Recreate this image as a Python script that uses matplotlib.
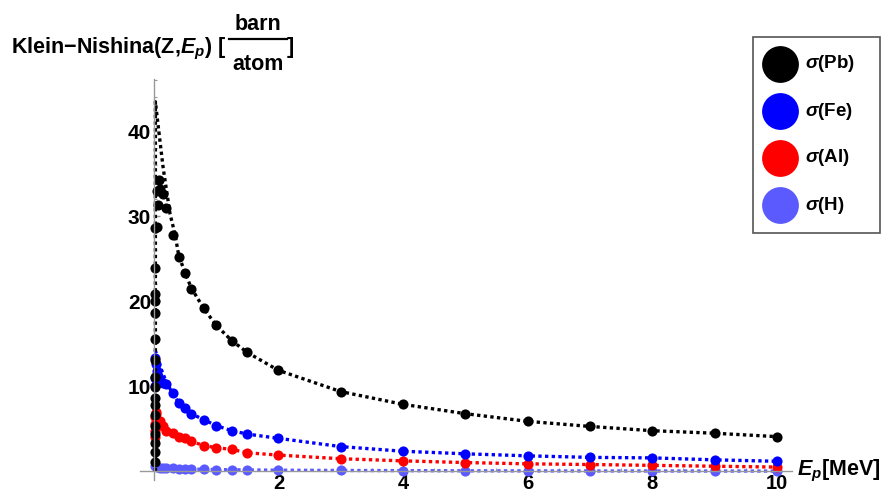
import matplotlib
matplotlib.use('Agg')
import matplotlib.pyplot as plt
from matplotlib.patches import Rectangle
from matplotlib.ticker import MultipleLocator

plt.rcParams['font.family'] = ['Liberation Sans', 'DejaVu Sans']
plt.rcParams['font.weight'] = 'bold'
plt.rcParams['mathtext.fontset'] = 'custom'
plt.rcParams['mathtext.it'] = 'Liberation Sans:italic:bold'
plt.rcParams['mathtext.rm'] = 'Liberation Sans:bold'
plt.rcParams['mathtext.bf'] = 'Liberation Sans:bold'

# photon energy E_p [MeV] and cross sections [barn/atom]
# sampled points (markers)
pb_e = [0.02, 0.02, 0.02, 0.02, 0.02, 0.02, 0.02, 0.02, 0.02, 0.02, 0.02, 0.02,
        0.02, 0.02, 0.025, 0.02, 0.02, 0.05, 0.06, 0.05, 0.08, 0.1, 0.15, 0.2,
        0.3, 0.4, 0.5, 0.6, 0.8, 1.0, 1.25, 1.5, 2.0, 3, 4, 5, 6, 7, 8, 9, 10]
pb_s = [1.1, 2.3, 3.4, 4.4, 5.4, 6.6, 7.8, 8.7, 9.9, 11.1, 13.1, 15.6,
        18.7, 20.1, 20.9, 23.9, 28.6, 28.8, 31.3, 33.0, 34.3, 33.2, 32.6, 31.0,
        27.8, 25.2, 23.3, 21.5, 19.2, 17.2, 15.4, 14.0, 11.9, 9.4, 7.9, 6.8, 5.9, 5.3, 4.8, 4.5, 4.1]

fe_e = [0.02, 0.02, 0.02, 0.03, 0.05, 0.07, 0.1, 0.15, 0.2, 0.3, 0.4, 0.5, 0.6,
        0.8, 1.0, 1.25, 1.5, 2.0, 3, 4, 5, 6, 7, 8, 9, 10]
fe_s = [10.0, 11.0, 13.3, 12.6, 11.8, 11.2, 10.8, 10.4, 10.3, 9.2, 8.1, 7.5, 6.8,
        6.1, 5.4, 4.8, 4.4, 3.9, 2.93, 2.38, 2.08, 1.84, 1.66, 1.6, 1.37, 1.2]

al_e = [0.02, 0.02, 0.02, 0.02, 0.03, 0.04, 0.1, 0.15, 0.2, 0.3, 0.4, 0.5, 0.6,
        0.8, 1.0, 1.25, 1.5, 2.0, 3, 4, 5, 6, 7, 8, 9, 10]
al_s = [4.0, 4.8, 5.6, 6.4, 7.0, 6.8, 5.9, 5.4, 4.8, 4.5, 4.1, 3.9, 3.55,
        3.05, 2.8, 2.7, 2.2, 1.93, 1.5, 1.25, 1.05, 0.9, 0.82, 0.72, 0.62, 0.52]

h_e = [0.02, 0.05, 0.1, 0.15, 0.2, 0.3, 0.4, 0.5, 0.6,
       0.8, 1.0, 1.25, 1.5, 2.0, 3, 4, 5, 6, 7, 8, 9, 10]
h_s = [0.6, 0.5, 0.45, 0.42, 0.4, 0.36, 0.33, 0.3, 0.28,
       0.25, 0.22, 0.2, 0.18, 0.15, 0.12, 0.1, 0.08, 0.07, 0.06, 0.06, 0.05, 0.05]

# joined curves (dotted)
pb_line_e = [0.025, 0.025, 0.08, 0.15, 0.26, 0.34, 0.4, 0.5, 0.6, 0.8, 1.0, 1.25, 1.5, 2.0,
             3, 4, 5, 6, 7, 8, 9, 10]
pb_line_s = [0.0, 43.5, 40.0, 35.7, 30.3, 27.9, 25.4, 23.4, 21.6, 19.2, 17.2, 15.4, 14.0, 11.9,
             9.4, 7.9, 6.8, 5.9, 5.3, 4.8, 4.5, 4.1]
fe_line_e = [0.025, 0.025, 0.1, 0.2, 0.3, 0.4, 0.5, 0.6, 0.8, 1.0, 1.25, 1.5, 2.0,
             3, 4, 5, 6, 7, 8, 9, 10]
fe_line_s = [0.0, 14.2, 12.4, 10.5, 9.2, 8.1, 7.5, 6.8, 6.1, 5.4, 4.8, 4.4, 3.9,
             2.93, 2.38, 2.08, 1.84, 1.66, 1.6, 1.37, 1.2]
al_line_e = [0.025, 0.025, 0.1, 0.15, 0.2, 0.3, 0.4, 0.5, 0.6, 0.8, 1.0, 1.25, 1.5, 2.0,
             3, 4, 5, 6, 7, 8, 9, 10]
al_line_s = [0.0, 7.4, 6.2, 5.5, 5.0, 4.5, 4.1, 3.9, 3.55, 3.05, 2.8, 2.6, 2.2, 1.93,
             1.5, 1.25, 1.05, 0.9, 0.82, 0.72, 0.62, 0.52]
h_line_e = [0.025, 0.025, 0.2, 0.5, 1.0, 2.0, 3, 4, 5, 6, 7, 8, 9, 10]
h_line_s = [0.0, 0.55, 0.4, 0.3, 0.22, 0.15, 0.12, 0.1, 0.08, 0.07, 0.06, 0.06, 0.05, 0.05]

labels = [r'$\sigma$(Pb)', r'$\sigma$(Fe)', r'$\sigma$(Al)', r'$\sigma$(H)']
colors = ['black', '#0000ff', '#ff0000', '#5a5aff']

W, H = 883, 493
fig = plt.figure(figsize=(W / 100, H / 100), dpi=100)
ax = fig.add_axes([0.1587, 0.0264, 0.7387, 0.8138])
ax.set_xlim(-0.22, 10.25)
ax.set_ylim(-1.0, 46.2)

series = [(h_line_e, h_line_s, h_e, h_s, colors[3]),
          (al_line_e, al_line_s, al_e, al_s, colors[2]),
          (fe_line_e, fe_line_s, fe_e, fe_s, colors[1]),
          (pb_line_e, pb_line_s, pb_e, pb_s, colors[0])]
for le, ls, pe, ps, c in series:
    ax.plot(le, ls, color=c, lw=2.4, linestyle=(0, (1, 1)), dash_capstyle='butt')
    ax.plot(pe, ps, 'o', color=c, ms=7.3, mew=0)

for side in ['top', 'right']:
    ax.spines[side].set_visible(False)
ax.spines['left'].set_position(('data', 0))
ax.spines['bottom'].set_position(('data', 0))
for side in ['left', 'bottom']:
    ax.spines[side].set_color('#999999')
    ax.spines[side].set_linewidth(1.0)

ax.set_xticks([2, 4, 6, 8, 10])
ax.set_yticks([10, 20, 30, 40])
ax.xaxis.set_minor_locator(MultipleLocator(0.5))
ax.yaxis.set_minor_locator(MultipleLocator(2))
ax.tick_params(which='major', direction='in', length=4, width=1, color='#999999',
               labelcolor='black')
ax.tick_params(which='minor', direction='in', length=2, width=0.8, color='#999999')
ax.tick_params(axis='x', pad=2, labelsize=14.5)
ax.tick_params(axis='y', pad=2, labelsize=15)
ax.patch.set_visible(False)

# axis labels in pixel positions
def px(x, y):
    return x / W, 1 - y / H

fig.text(*px(797, 471), r'$E_p$[MeV]', fontsize=15.5, va='center', ha='left')
fig.text(*px(11, 53), r'Klein−Nishina(Z,$E_p$) [', fontsize=15.5, va='baseline', ha='left')
fig.text(*px(258, 30), 'barn', fontsize=15.5, va='baseline', ha='center')
fig.text(*px(258, 70), 'atom', fontsize=15.5, va='baseline', ha='center')
fig.text(*px(287, 53), ']', fontsize=15.5, va='baseline', ha='left')

# legend
lax = fig.add_axes([0, 0, 1, 1])
lax.set_xlim(0, W)
lax.set_ylim(H, 0)
lax.axis('off')
lax.plot([229, 287], [39, 39], color='black', lw=1.6)
lax.add_patch(Rectangle((752.5, 36.5), 127, 196, fill=False, edgecolor='#555555', lw=1.2))
for i, (lab, c) in enumerate(zip(labels, colors)):
    y = 64 + 47 * i
    lax.plot([780], [y], 'o', color=c, ms=26.5, mew=0)
    lax.text(805, y, lab, fontsize=13.5, va='center', ha='left')

fig.savefig('out.png', dpi=100)
